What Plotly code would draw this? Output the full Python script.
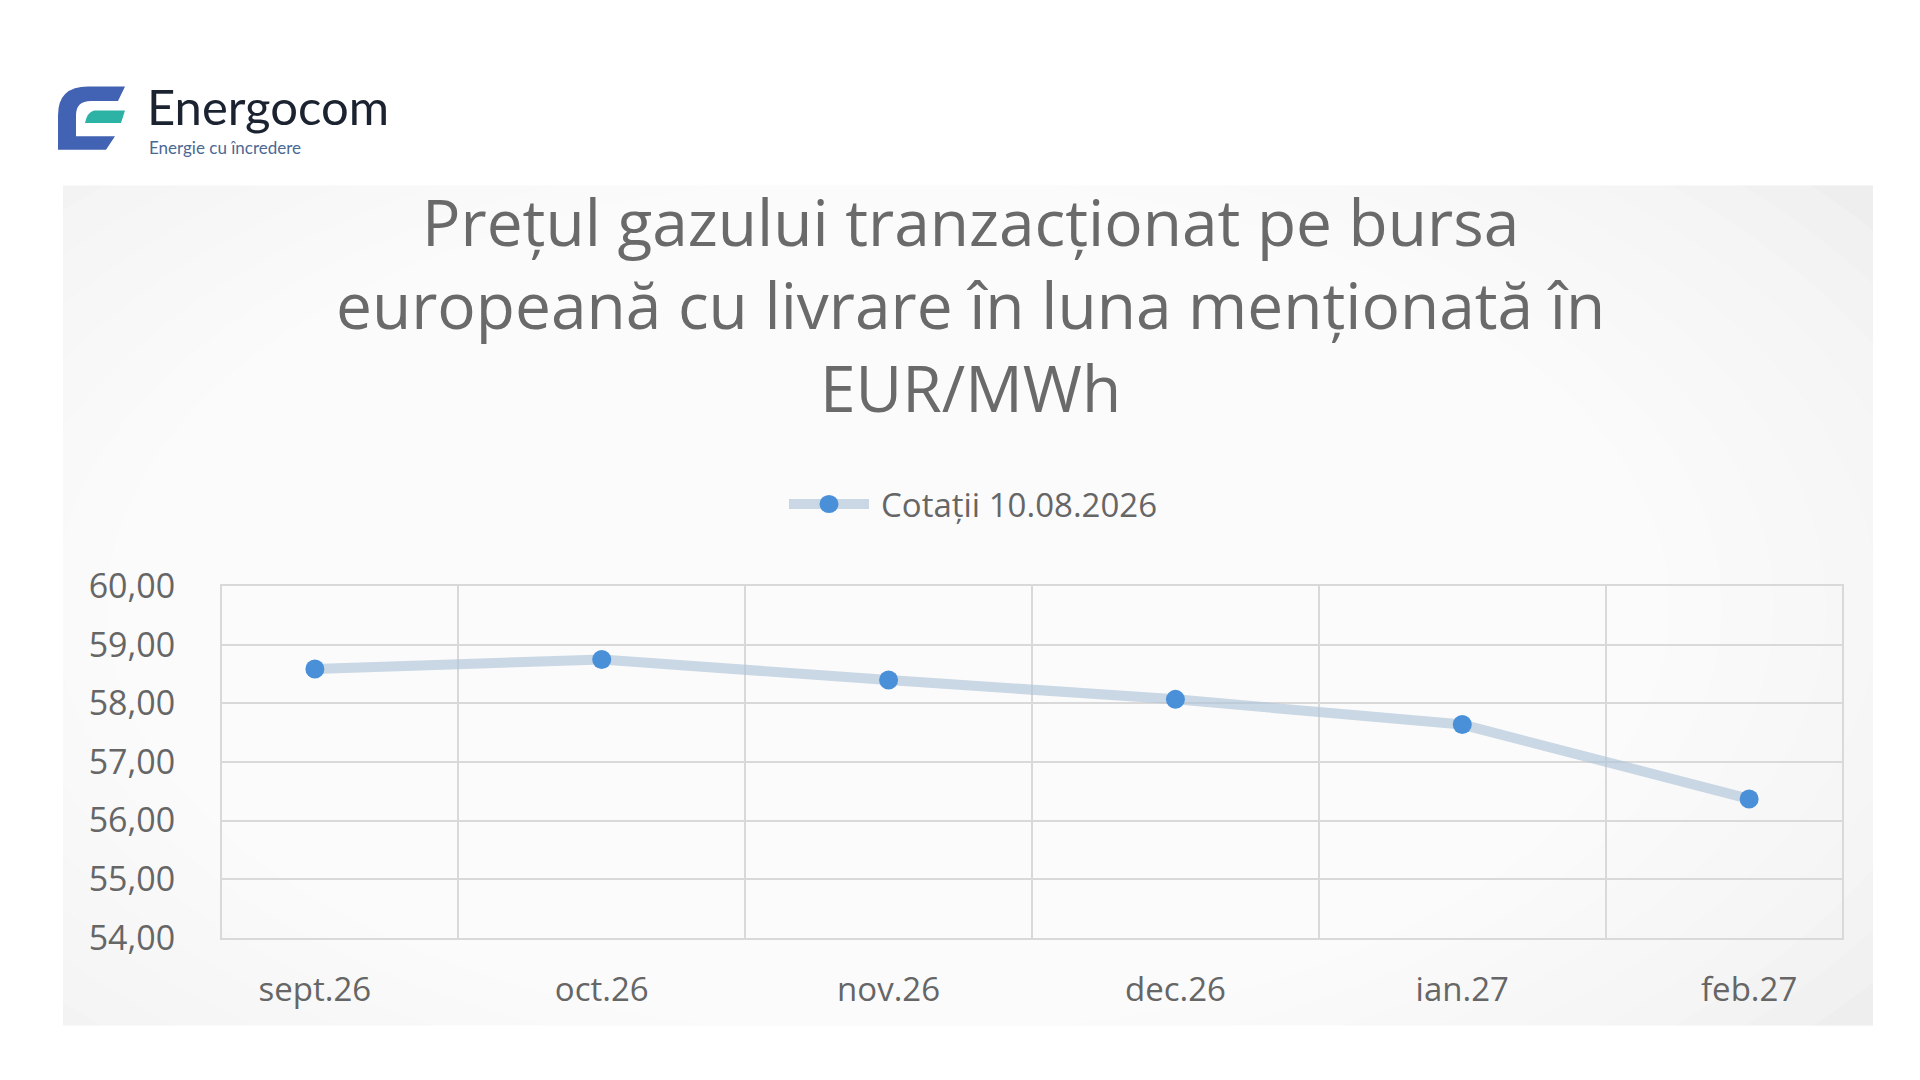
import plotly.graph_objects as go

W, H = 1920, 1080

months = ['sept.26', 'oct.26', 'nov.26', 'dec.26', 'ian.27', 'feb.27']
prices = [58.59, 58.75, 58.40, 58.07, 57.64, 56.37]
series_name = 'Cotații 10.08.2026'
title_lines = [
    'Prețul gazului tranzacționat pe bursa',
    'europeană cu livrare în luna menționată în',
    'EUR/MWh',
]
y_ticks = [54, 55, 56, 57, 58, 59, 60]

LINE_COLOR = 'rgba(175,195,215,0.65)'
MARKER_COLOR = '#4a90d9'


def px(x):
    return x / W


def py(y):
    return 1 - y / H


def path(cmds):
    # cmds: list of (letter, [x, y, x, y...]) in pixels
    out = ''
    for c, pts in cmds:
        out += c
        if pts:
            vals = []
            for i in range(0, len(pts), 2):
                vals.append('%.5f,%.5f' % (px(pts[i]), py(pts[i + 1])))
            out += ' '.join(vals)
        out += ' '
    return out.strip()


fig = go.Figure()

fig.add_trace(go.Scatter(
    x=months,
    y=prices,
    mode='lines+markers',
    name=series_name,
    line=dict(color=LINE_COLOR, width=10),
    marker=dict(color=MARKER_COLOR, size=19),
    showlegend=False,
))

shapes = []

# grey panel behind the chart, faked radial gradient
shapes.append(dict(type='rect', xref='paper', yref='paper', layer='below',
                   x0=px(55), x1=px(1865), y0=py(1038), y1=py(160),
                   fillcolor='#ebebeb', line=dict(width=0)))
for k in range(20):
    rx = 1250 - k * 52
    ry = 720 - k * 30
    shapes.append(dict(type='circle', xref='paper', yref='paper', layer='below',
                       x0=px(880 - rx), x1=px(880 + rx),
                       y0=py(600 + ry), y1=py(600 - ry),
                       fillcolor='rgba(255,255,255,0.17)', line=dict(width=0)))
# clip the gradient back to the panel edges
for x0, x1, y0, y1 in [(0, W, 0, 160), (0, W, 1038, H), (0, 55, 0, H), (1865, W, 0, H)]:
    shapes.append(dict(type='rect', xref='paper', yref='paper', layer='below',
                       x0=px(x0), x1=px(x1), y0=py(y1), y1=py(y0),
                       fillcolor='white', line=dict(width=0)))

# logo icon
shapes.append(dict(type='path', xref='paper', yref='paper',
                   path=path([('M', [80, 57]), ('L', [117, 57]), ('L', [110, 72]),
                              ('L', [83, 72]), ('Q', [68, 72, 68, 87]),
                              ('L', [68, 109]), ('L', [107, 109]), ('L', [98, 123]),
                              ('L', [50, 123]), ('L', [50, 87]),
                              ('Q', [50, 57, 80, 57]), ('Z', [])]),
                   fillcolor='#4263b3', line=dict(width=0)))
shapes.append(dict(type='path', xref='paper', yref='paper',
                   path=path([('M', [86, 82]), ('L', [117, 82]), ('L', [113, 95]),
                              ('L', [77, 95]), ('Q', [79, 84, 86, 82]), ('Z', [])]),
                   fillcolor='#2cb3a6', line=dict(width=0)))

# legend drawn by hand so the sample line is as long as in the original
shapes.append(dict(type='line', xref='paper', yref='paper',
                   x0=px(781), x1=px(861), y0=py(493), y1=py(493),
                   line=dict(color=LINE_COLOR, width=10)))
shapes.append(dict(type='circle', xref='paper', yref='paper',
                   x0=px(821 - 9.5), x1=px(821 + 9.5), y0=py(493 + 9.5), y1=py(493 - 9.5),
                   fillcolor=MARKER_COLOR, line=dict(width=0)))

annotations = [
    dict(xref='paper', yref='paper', x=px(137), y=py(77), xanchor='left', yanchor='middle',
         text='Energocom', showarrow=False,
         font=dict(family='Lato', size=49, color='#1b2330')),
    dict(xref='paper', yref='paper', x=px(139), y=py(121), xanchor='left', yanchor='middle',
         text='Energie cu încredere', showarrow=False,
         font=dict(family='Lato', size=17, color='#4b6893')),
    dict(xref='paper', yref='paper', x=px(962), y=py(285), xanchor='center', yanchor='middle',
         text='<br>'.join(title_lines), showarrow=False,
         font=dict(family='Open Sans', size=64, color='#6a6a6a')),
    dict(xref='paper', yref='paper', x=px(871), y=py(494), xanchor='left', yanchor='middle',
         text=series_name, showarrow=False,
         font=dict(family='Open Sans', size=33, color='#666666')),
]

fig.update_layout(
    width=W,
    height=H,
    margin=dict(l=0, r=0, t=0, b=0),
    paper_bgcolor='white',
    plot_bgcolor='rgba(0,0,0,0)',
    separators=',.',
    shapes=shapes,
    annotations=annotations,
    showlegend=False,
    xaxis=dict(
        domain=[px(214), px(1834)],
        type='category',
        tickson='boundaries',
        showgrid=True,
        gridcolor='#d9d9d9',
        gridwidth=2,
        showline=True,
        linecolor='#d9d9d9',
        linewidth=2,
        mirror=True,
        ticks='',
        ticklabelstandoff=22,
        tickfont=dict(family='Open Sans', size=33, color='#666666'),
        zeroline=False,
    ),
    yaxis=dict(
        domain=[py(946), py(579)],
        range=[54, 60],
        tickvals=y_ticks,
        tickformat='.2f',
        showgrid=True,
        gridcolor='#d9d9d9',
        gridwidth=2,
        showline=True,
        linecolor='#d9d9d9',
        linewidth=2,
        mirror=True,
        ticks='',
        ticklabelstandoff=38,
        tickfont=dict(family='Open Sans', size=34, color='#666666'),
        zeroline=False,
    ),
)

fig.write_html('out.html')
